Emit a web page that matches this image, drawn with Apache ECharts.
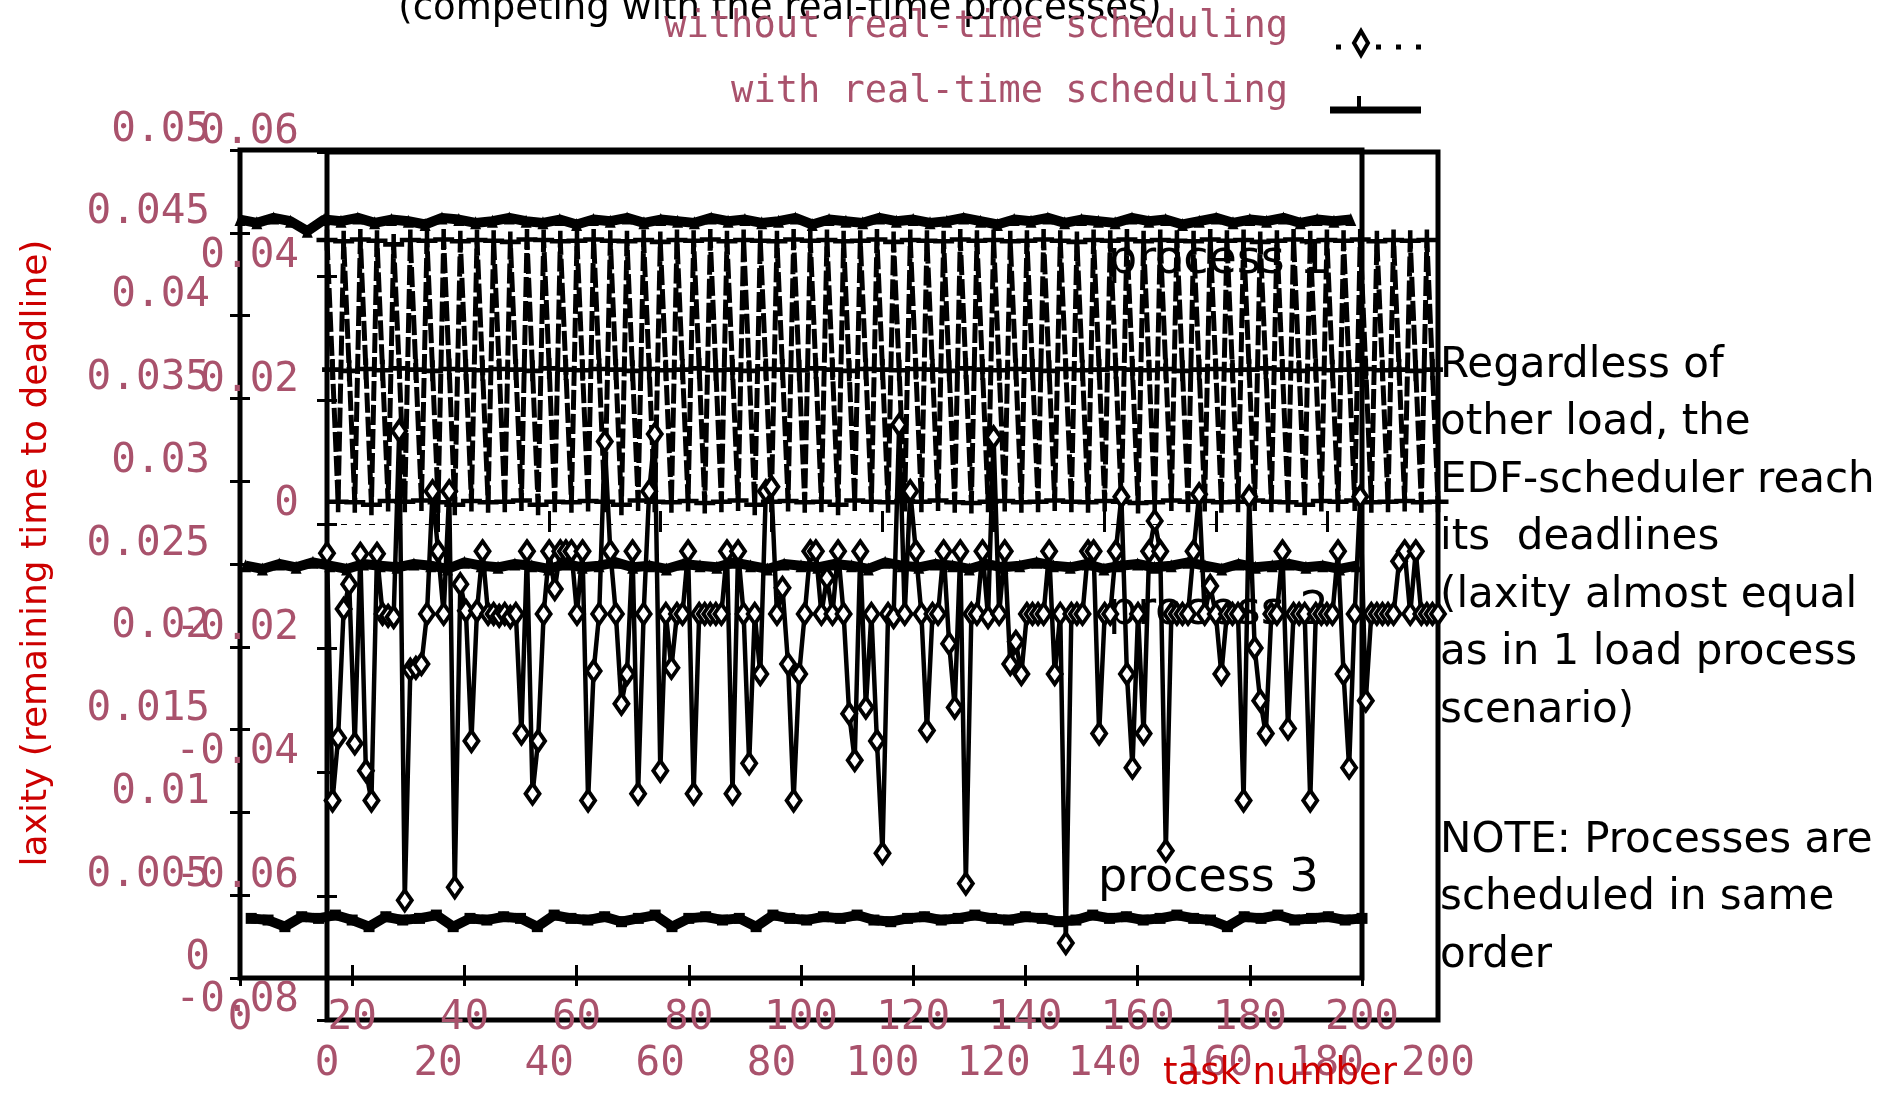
<!DOCTYPE html>
<html>
<head>
<meta charset="utf-8">
<script src="https://cdn.jsdelivr.net/npm/echarts@6/dist/echarts.min.js"></script>
<style>
  html, body { margin: 0; padding: 0; background: #fff; }
  #chart { width: 1897px; height: 1098px; }
</style>
</head>
<body>
<div id="chart"></div>
<script>
// Tick positions of both overlaid plots
const xTicks = [0, 20, 40, 60, 80, 100, 120, 140, 160, 180, 200];
const yTicksWith = [0, 0.005, 0.01, 0.015, 0.02, 0.025, 0.03, 0.035, 0.04, 0.045, 0.05];
const yTicksWithout = [-0.08, -0.06, -0.04, -0.02, 0, 0.02, 0.04, 0.06];

// Laxity with real-time scheduling, one value per task of each process
// (process 1 runs tasks 0,3,6..., process 2 tasks 1,4,7..., process 3 tasks 2,5,8...)
const withP1 = [
  0.0458, 0.0456, 0.0459, 0.0457, 0.0451, 0.0458, 0.0457, 0.0459, 0.0456, 0.0458,
  0.0457, 0.0455, 0.0459, 0.0458, 0.0456, 0.0457, 0.0459, 0.0457, 0.0456, 0.0458,
  0.0455, 0.0458, 0.0457, 0.0459, 0.0456, 0.0458, 0.0457, 0.0456, 0.0459, 0.0457,
  0.0458, 0.0456, 0.0457, 0.0459, 0.0455, 0.0458, 0.0457, 0.0456, 0.0459, 0.0457,
  0.0458, 0.0456, 0.0457, 0.0459, 0.0457, 0.0455, 0.0458, 0.0457, 0.0459, 0.0456,
  0.0458, 0.0457, 0.0456, 0.0459, 0.0457, 0.0458, 0.0455, 0.0457, 0.0459, 0.0456,
  0.0458, 0.0457, 0.0459, 0.0456, 0.0458, 0.0457, 0.0458
];
const withP2 = [
  0.0249, 0.0247, 0.0250, 0.0248, 0.0251, 0.0249, 0.0247, 0.0250, 0.0249, 0.0248,
  0.0250, 0.0249, 0.0247, 0.0251, 0.0249, 0.0248, 0.0250, 0.0249, 0.0247, 0.0250,
  0.0248, 0.0249, 0.0251, 0.0248, 0.0249, 0.0247, 0.0250, 0.0249, 0.0248, 0.0251,
  0.0249, 0.0247, 0.0250, 0.0249, 0.0248, 0.0250, 0.0249, 0.0247, 0.0251, 0.0249,
  0.0248, 0.0250, 0.0249, 0.0247, 0.0250, 0.0248, 0.0249, 0.0251, 0.0249, 0.0248,
  0.0250, 0.0247, 0.0249, 0.0250, 0.0248, 0.0249, 0.0251, 0.0249, 0.0247, 0.0250,
  0.0248, 0.0249, 0.0250, 0.0248, 0.0249, 0.0247, 0.0249
];
const withP3 = [
  0.0036, 0.0035, 0.0031, 0.0037, 0.0036, 0.0038, 0.0035, 0.0031, 0.0037, 0.0035,
  0.0036, 0.0038, 0.0031, 0.0036, 0.0035, 0.0037, 0.0036, 0.0031, 0.0038, 0.0036,
  0.0035, 0.0037, 0.0034, 0.0036, 0.0038, 0.0031, 0.0036, 0.0037, 0.0035, 0.0036,
  0.0031, 0.0038, 0.0036, 0.0035, 0.0037, 0.0036, 0.0038, 0.0035, 0.0034, 0.0036,
  0.0037, 0.0035, 0.0036, 0.0038, 0.0036, 0.0035, 0.0037, 0.0036, 0.0034, 0.0035,
  0.0038, 0.0036, 0.0037, 0.0035, 0.0036, 0.0038, 0.0036, 0.0035, 0.0031, 0.0037,
  0.0036, 0.0038, 0.0035, 0.0036, 0.0037, 0.0035, 0.0036
];

// Laxity without real-time scheduling, task 0..200
const withoutRT = [
  -0.0047, -0.0446, -0.0345, -0.0137, -0.0097, -0.0354, -0.0048, -0.0398, -0.0446, -0.0048,
  -0.0145, -0.0148, -0.0150,  0.0150, -0.0607, -0.0235, -0.0232, -0.0226, -0.0145,  0.0053,
  -0.0044, -0.0145,  0.0053, -0.0586, -0.0097, -0.0140, -0.0350, -0.0140, -0.0044, -0.0145,
  -0.0145, -0.0148, -0.0145, -0.0150, -0.0145, -0.0338, -0.0044, -0.0435, -0.0350, -0.0145,
  -0.0044, -0.0105, -0.0044, -0.0044, -0.0044, -0.0145, -0.0044, -0.0446, -0.0237, -0.0145,
   0.0133, -0.0044, -0.0145, -0.0290, -0.0242, -0.0044, -0.0435, -0.0145,  0.0053,  0.0145,
  -0.0398, -0.0145, -0.0232, -0.0145, -0.0145, -0.0044, -0.0435, -0.0145, -0.0145, -0.0145,
  -0.0145, -0.0145, -0.0044, -0.0435, -0.0044, -0.0145, -0.0386, -0.0145, -0.0242,  0.0053,
   0.0060, -0.0145, -0.0103, -0.0226, -0.0446, -0.0242, -0.0145, -0.0044, -0.0044, -0.0145,
  -0.0087, -0.0145, -0.0044, -0.0145, -0.0306, -0.0381, -0.0044, -0.0296, -0.0145, -0.0350,
  -0.0531, -0.0145, -0.0150,  0.0160, -0.0145,  0.0053, -0.0044, -0.0145, -0.0333, -0.0145,
  -0.0145, -0.0044, -0.0193, -0.0296, -0.0044, -0.0580, -0.0145, -0.0145, -0.0044, -0.0150,
   0.0140, -0.0145, -0.0044, -0.0226, -0.0190, -0.0242, -0.0145, -0.0145, -0.0145, -0.0145,
  -0.0044, -0.0242, -0.0145, -0.0676, -0.0145, -0.0145, -0.0145, -0.0044, -0.0044, -0.0338,
  -0.0145, -0.0145, -0.0044,  0.0044, -0.0242, -0.0393, -0.0145, -0.0338, -0.0044,  0.0005,
  -0.0044, -0.0527, -0.0145, -0.0145, -0.0145, -0.0145, -0.0044,  0.0048, -0.0145, -0.0100,
  -0.0145, -0.0242, -0.0145, -0.0145, -0.0145, -0.0446,  0.0044, -0.0200, -0.0285, -0.0338,
  -0.0145, -0.0145, -0.0044, -0.0330, -0.0145, -0.0145, -0.0145, -0.0446, -0.0145, -0.0145,
  -0.0145, -0.0145, -0.0044, -0.0242, -0.0393, -0.0145,  0.0044, -0.0285, -0.0145, -0.0145,
  -0.0145, -0.0145, -0.0145, -0.0060, -0.0044, -0.0145, -0.0044, -0.0145, -0.0145, -0.0145,
  -0.0145
];

const PINK = '#a9526c';
const RED = '#cc0000';
const INK = '#000';
const MONO = 'DejaVu Sans Mono';
const SANS = 'DejaVu Sans';

const processes = [withP1, withP2, withP3];
const perProcess = processes.map((vals, p) => vals.map((v, i) => [3 * i + p, v]));
// all tasks in execution order
const allTasks = [];
for (let t = xTicks[0]; t <= xTicks[xTicks.length - 1]; t++) {
  const p = t % 3;
  const arr = processes[p];
  const i = (t - p) / 3;
  if (i < arr.length) allTasks.push([t, arr[i]]);
}
const withoutData = withoutRT.map((v, t) => [t, v]);

const step = a => +(a[1] - a[0]).toFixed(6);

function xAxis(grid, pos, labelMargin) {
  return {
    type: 'value', gridIndex: grid, position: pos,
    min: xTicks[0], max: xTicks[xTicks.length - 1], interval: step(xTicks),
    axisLine: { show: false },
    splitLine: { show: false },
    axisTick: { show: true, inside: true, length: pos === 'bottom' ? 13 : 8,
                lineStyle: { color: INK, width: 3 } },
    axisLabel: labelMargin == null ? { show: false } : {
      show: true, margin: labelMargin, color: PINK, fontFamily: MONO, fontSize: 41,
      lineHeight: 40, showMinLabel: true, showMaxLabel: true
    }
  };
}
function yAxis(grid, pos, ticks, labelMargin) {
  return {
    type: 'value', gridIndex: grid, position: pos,
    min: ticks[0], max: ticks[ticks.length - 1], interval: step(ticks),
    axisLine: { show: false },
    splitLine: { show: false },
    axisTick: { show: true, inside: true, length: 10, lineStyle: { color: INK, width: 3 } },
    axisLabel: labelMargin == null ? { show: false } : {
      show: true, margin: labelMargin, color: PINK, fontFamily: MONO, fontSize: 41,
      lineHeight: 40, verticalAlign: 'bottom', showMinLabel: true, showMaxLabel: true
    }
  };
}

const plusSymbol = 'path://M0,9L9,9L9,0L14,0L14,9L23,9L23,14L14,14L14,23L9,23L9,14L0,14Z';

const option = {
  animation: false,
  backgroundColor: '#fff',
  grid: [
    { left: 240, right: 535, top: 150, bottom: 120, show: true,
      borderColor: INK, borderWidth: 5, backgroundColor: 'transparent' },
    { left: 327, right: 459, top: 152, bottom: 78, show: true,
      borderColor: INK, borderWidth: 5, backgroundColor: 'transparent' }
  ],
  xAxis: [
    xAxis(0, 'bottom', 20),
    xAxis(0, 'top', null),
    xAxis(1, 'bottom', 24),
    xAxis(1, 'top', null)
  ],
  yAxis: [
    yAxis(0, 'left', yTicksWith, 30),
    yAxis(0, 'right', yTicksWith, null),
    yAxis(1, 'left', yTicksWithout, 28),
    yAxis(1, 'right', yTicksWithout, null)
  ],
  series: [
    {
      name: 'all tasks', type: 'line', xAxisIndex: 2, yAxisIndex: 2, z: 2,
      data: allTasks, showAllSymbol: true,
      symbol: plusSymbol, symbolSize: 21,
      itemStyle: { color: INK },
      lineStyle: { color: INK, width: 5, type: [20, 4] },
      markLine: {
        silent: true, symbol: 'none', label: { show: false },
        lineStyle: { color: INK, width: 1, type: [6, 8] },
        data: [{ yAxis: 0 }]
      }
    },
    {
      name: 'without real-time scheduling', type: 'line', xAxisIndex: 2, yAxisIndex: 2, z: 3,
      data: withoutData, showAllSymbol: true,
      symbol: 'diamond', symbolSize: [14, 20],
      itemStyle: { color: '#fff', borderColor: INK, borderWidth: 4 },
      lineStyle: { color: INK, width: 4.5 }
    },
    ...perProcess.map((d, p) => ({
      name: 'with real-time scheduling ' + (p + 1), type: 'line',
      xAxisIndex: 0, yAxisIndex: 0, z: 4,
      data: d, showAllSymbol: true,
      symbol: p === 2 ? 'rect' : 'triangle', symbolSize: p === 2 ? [11, 11] : [11, 13],
      itemStyle: { color: INK },
      lineStyle: { color: INK, width: 10 }
    }))
  ],
  graphic: [
    // process labels sit under the data
    { type: 'text', z: 1, x: 1108, y: 261, style: { text: 'process 1', fontFamily: SANS, fontSize: 46, fill: INK, textAlign: 'left', textVerticalAlign: 'middle' } },
    { type: 'text', z: 1, x: 1108, y: 612, style: { text: 'process 2', fontFamily: SANS, fontSize: 46, fill: INK, textAlign: 'left', textVerticalAlign: 'middle' } },
    { type: 'text', z: 1, x: 1098, y: 879, style: { text: 'process 3', fontFamily: SANS, fontSize: 46, fill: INK, textAlign: 'left', textVerticalAlign: 'middle' } },

    { type: 'text', z: 10, x: 780, y: 9, style: { text: '(competing with the real-time processes)', fontFamily: SANS, fontSize: 37, fill: INK, textAlign: 'center', textVerticalAlign: 'middle' } },

    // key
    { type: 'text', z: 10, x: 1288, y: 27, style: { text: 'without real-time scheduling', fontFamily: MONO, fontSize: 37, fill: PINK, textAlign: 'right', textVerticalAlign: 'middle' } },
    { type: 'text', z: 10, x: 1288, y: 92, style: { text: 'with real-time scheduling', fontFamily: MONO, fontSize: 37, fill: PINK, textAlign: 'right', textVerticalAlign: 'middle' } },
    { type: 'line', z: 10, shape: { x1: 1336, y1: 47, x2: 1424, y2: 47 }, style: { stroke: INK, lineWidth: 5, lineDash: [5, 15] } },
    { type: 'polygon', z: 11, shape: { points: [[1361, 31], [1368, 43], [1361, 55], [1354, 43]] }, style: { fill: '#fff', stroke: INK, lineWidth: 4 } },
    { type: 'line', z: 10, shape: { x1: 1330, y1: 110, x2: 1421, y2: 110 }, style: { stroke: INK, lineWidth: 7 } },
    { type: 'line', z: 10, shape: { x1: 1359, y1: 96, x2: 1359, y2: 110 }, style: { stroke: INK, lineWidth: 4 } },

    // axis titles
    { type: 'text', z: 10, x: 37, y: 553, rotation: Math.PI / 2, style: { text: 'laxity (remaining time to deadline)', fontFamily: SANS, fontSize: 36, fill: RED, textAlign: 'center', textVerticalAlign: 'middle' } },
    { type: 'text', z: 10, x: 1280, y: 1074, style: { text: 'task number', fontFamily: SANS, fontSize: 37, fill: RED, textAlign: 'center', textVerticalAlign: 'middle' } },

    // commentary
    { type: 'text', z: 10, x: 1440, y: 337, style: { text: 'Regardless of\nother load, the\nEDF-scheduler reach\nits  deadlines\n(laxity almost equal\nas in 1 load process\nscenario)', fontFamily: SANS, fontSize: 42, lineHeight: 57.5, fill: INK, textAlign: 'left', textVerticalAlign: 'top' } },
    { type: 'text', z: 10, x: 1440, y: 812, style: { text: 'NOTE: Processes are\nscheduled in same\norder', fontFamily: SANS, fontSize: 42, lineHeight: 57.5, fill: INK, textAlign: 'left', textVerticalAlign: 'top' } }
  ]
};

const chart = echarts.init(document.getElementById('chart'), null, { renderer: 'canvas', devicePixelRatio: 1 });
chart.setOption(option);
</script>
</body>
</html>
